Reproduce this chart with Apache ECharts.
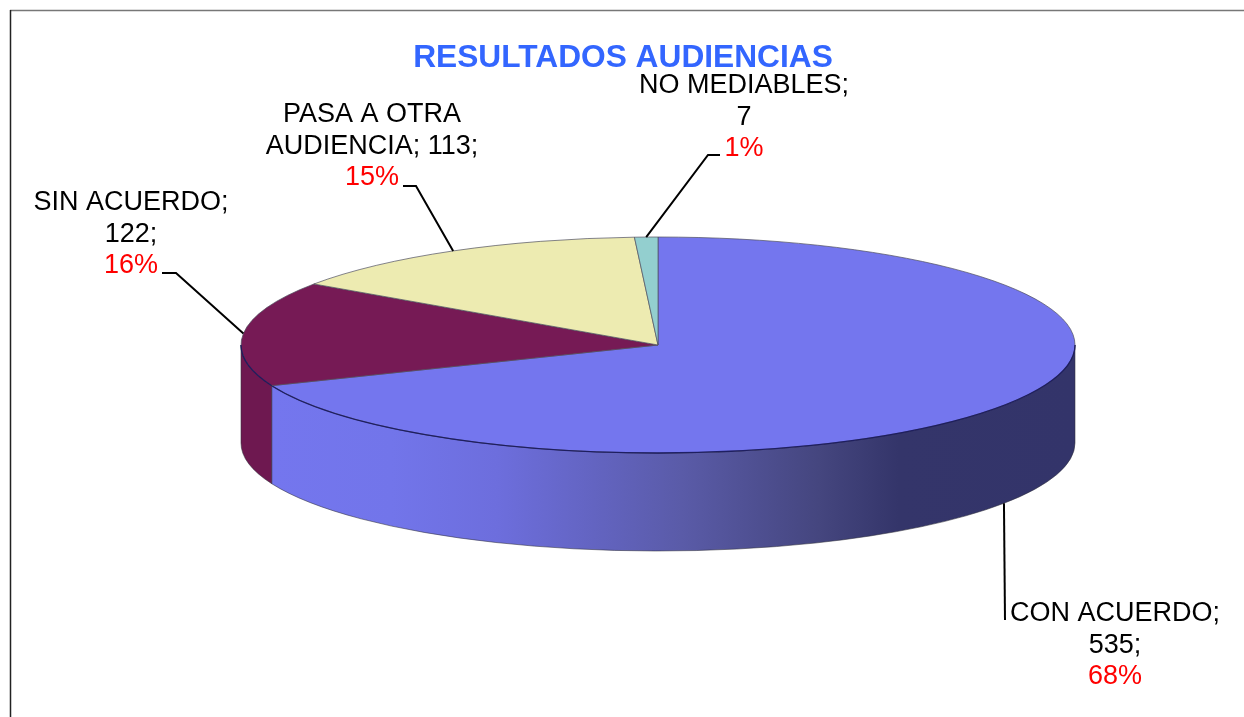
<!DOCTYPE html>
<html>
<head>
<meta charset="utf-8">
<script src="https://cdn.jsdelivr.net/npm/echarts@6/dist/echarts.min.js"></script>
<style>
  html, body { margin: 0; background: #fff; }
  #chart { width: 1244px; height: 717px; }
</style>
</head>
<body>
<div id="chart"></div>
<script>
// values
const categories = ['CON ACUERDO', 'SIN ACUERDO', 'PASA A OTRA AUDIENCIA', 'NO MEDIABLES']
const values = [535, 122, 113, 7]
const percents = ['68%', '16%', '15%', '1%']
const labelLines = [
  ['CON ACUERDO;', '535;'],
  ['SIN ACUERDO;', '122;'],
  ['PASA A OTRA', 'AUDIENCIA; 113;'],
  ['NO MEDIABLES;', '7']
]

const topColors = ['#7476ee', '#761a55', '#edebb1', '#93cfcf']
const wallColors = ['', '#6e1850', '#d5d39f', '#84baba']

// pie geometry in pixels
const cx = 658, cy = 345, rx = 417, ry = 108, depth = 98
const FONT = '"Liberation Sans", Arial, sans-serif'

// label centre x, first line top
const labelPos = [[1115, 598], [131, 187], [372, 99], [744, 70]]
// points the leader passes after leaving the pie
const leaderBends = [
  [[1005, 620]],
  [[176, 273], [162, 273]],
  [[416, 186], [403, 186]],
  [[708, 155], [720, 155]]
]

const total = values.reduce((a, b) => a + b, 0)
let acc = 0
const rows = values.map((v, i) => {
  const start = acc / total * Math.PI * 2
  acc += v
  return [start, acc / total * Math.PI * 2, i]
})

// 0 is twelve o'clock, clockwise
function rim (a) {
  return [cx + rx * Math.sin(a), cy - ry * Math.cos(a)]
}

function topPath (a0, a1) {
  const p0 = rim(a0), p1 = rim(a1)
  const large = a1 - a0 > Math.PI ? 1 : 0
  return `M${cx} ${cy}L${p0[0]} ${p0[1]}A${rx} ${ry} 0 ${large} 1 ${p1[0]} ${p1[1]}Z`
}

function rimPath (a0, a1) {
  const p0 = rim(a0), p1 = rim(a1)
  return `M${p0[0]} ${p0[1]}A${rx} ${ry} 0 0 1 ${p1[0]} ${p1[1]}`
}

function wallPath (a0, a1) {
  const p0 = rim(a0), p1 = rim(a1)
  return rimPath(a0, a1) +
    `L${p1[0]} ${p1[1] + depth}A${rx} ${ry} 0 0 0 ${p0[0]} ${p0[1] + depth}Z`
}

function wallFill (i) {
  if (i !== 0) return wallColors[i]
  return new echarts.graphic.LinearGradient(1, 0, 0, 0, [
    { offset: 0, color: '#33346a' },
    { offset: 0.22, color: '#34356a' },
    { offset: 0.32, color: '#45467f' },
    { offset: 0.49, color: '#5a5ba8' },
    { offset: 0.72, color: '#6d6edd' },
    { offset: 0.85, color: '#7275ea' },
    { offset: 1, color: '#7476ee' }
  ])
}

function renderItem (params, api) {
  const a0 = api.value(0), a1 = api.value(1), i = api.value(2)
  const children = []

  // only the front half of the disc shows a wall
  const w0 = Math.max(a0, Math.PI / 2), w1 = Math.min(a1, Math.PI * 1.5)
  const hasWall = w1 > w0
  if (hasWall) {
    children.push({
      type: 'path',
      shape: { pathData: wallPath(w0, w1) },
      style: { fill: wallFill(i), stroke: 'rgba(50,50,60,0.55)', lineWidth: 1 }
    })
  }
  children.push({
    type: 'path',
    shape: { pathData: topPath(a0, a1) },
    style: { fill: topColors[i], stroke: 'rgba(80,80,95,0.7)', lineWidth: 1 }
  })
  if (hasWall) {
    children.push({
      type: 'path',
      shape: { pathData: rimPath(w0, w1) },
      style: { fill: null, stroke: 'rgba(20,20,90,0.85)', lineWidth: 1.3 }
    })
  }

  const mid = (a0 + a1) / 2
  const anchor = rim(mid)
  if (Math.cos(mid) < 0) anchor[1] += depth
  children.push({
    type: 'polyline',
    shape: { points: [anchor].concat(leaderBends[i]) },
    style: { fill: null, stroke: '#000', lineWidth: 2 }
  })

  children.push({
    type: 'text',
    style: {
      x: labelPos[i][0],
      y: labelPos[i][1],
      align: 'center',
      verticalAlign: 'top',
      text: labelLines[i].map(s => `{k|${s}}`).join('\n') + `\n{r|${percents[i]}}`,
      rich: {
        k: { fontFamily: FONT, fontSize: 27, lineHeight: 31.5, fill: '#000', color: '#000' },
        r: { fontFamily: FONT, fontSize: 27, lineHeight: 31.5, fill: '#f00', color: '#f00' }
      }
    }
  })
  return { type: 'group', children: children }
}

const myChart = echarts.init(document.getElementById('chart'))
myChart.setOption({
  animation: false,
  backgroundColor: '#fff',
  title: {
    text: 'RESULTADOS AUDIENCIAS',
    left: 618,
    top: 37,
    textAlign: 'center',
    textStyle: { color: '#3366ff', fontFamily: FONT, fontSize: 31.7, fontWeight: 'bold' }
  },
  graphic: [
    { type: 'line', shape: { x1: 10, y1: 10.5, x2: 1244, y2: 10.5 }, style: { stroke: '#777', lineWidth: 1.5 } },
    { type: 'line', shape: { x1: 10.5, y1: 10, x2: 10.5, y2: 717 }, style: { stroke: '#222', lineWidth: 1.5 } }
  ],
  series: [{
    type: 'custom',
    coordinateSystem: 'none',
    name: categories.join(', '),
    silent: true,
    renderItem: renderItem,
    data: rows
  }]
})
</script>
</body>
</html>
